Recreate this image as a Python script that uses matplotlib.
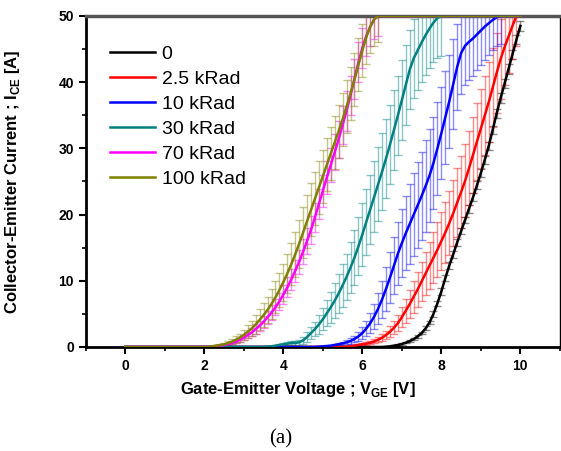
import numpy as np
import matplotlib
matplotlib.use("Agg")
import matplotlib.pyplot as plt
from matplotlib.ticker import MultipleLocator

plt.rcParams["font.family"] = ["Liberation Sans", "DejaVu Sans"]
plt.rcParams["mathtext.fontset"] = "custom"
plt.rcParams["mathtext.rm"] = "Liberation Sans:bold"
plt.rcParams["mathtext.bf"] = "Liberation Sans:bold"

# データ (0.1 V 刻み, 立ち上がり部分)
labels = ["0", "2.5 kRad", "10 kRad", "30 kRad", "70 kRad", "100 kRad"]
colors = ["#000000", "#ff0000", "#0000ff", "#008080", "#ff00ff", "#808000"]
v_start = [6.5, 5.5, 4.8, 3.5, 2.0, 2.0]

i_0 = [0.0, 0.05, 0.1, 0.2, 0.3, 0.45, 0.65, 0.9, 1.2, 1.6, 2.1, 2.8, 3.7, 5.0, 6.6, 8.4,
       10.4, 12.3, 14.0, 15.8, 17.5, 19.2, 20.9, 22.6, 24.4, 26.3, 28.3, 30.4, 32.8, 35.3,
       37.6, 39.8, 42.0, 44.2, 46.4, 48.5]
e_0 = [0.0, 0.0, 0.05, 0.05, 0.1, 0.1, 0.1, 0.15, 0.15, 0.2, 0.2, 0.3, 0.3, 0.4, 0.4, 0.5,
       0.5, 0.5, 0.5, 0.5, 0.5, 0.5, 0.6, 0.6, 0.6, 0.6, 0.6, 0.6, 0.6, 0.7, 0.7, 0.7, 0.7,
       0.7, 0.7, 0.7]

i_2k5 = [0.0, 0.05, 0.1, 0.2, 0.3, 0.4, 0.5, 0.65, 0.85, 1.1, 1.4, 1.8, 2.3, 2.9, 3.6, 4.5,
         5.5, 6.5, 7.6, 8.7, 9.9, 11.1, 12.3, 13.5, 14.7, 16.0, 17.3, 18.7, 20.2, 21.8,
         23.4, 25.1, 27.0, 29.0, 31.0, 33.0, 35.0, 37.0, 39.2, 41.4, 43.5, 45.3, 46.9,
         48.5, 50.0]
e_2k5 = [0.0, 0.0, 0.05, 0.1, 0.1, 0.15, 0.2, 0.2, 0.3, 0.4, 0.5, 0.6, 0.8, 1.0, 1.2, 1.5,
         1.8, 2.1, 2.4, 2.7, 3.0, 3.3, 3.6, 3.9, 4.2, 4.4, 4.6, 4.8, 5.0, 5.2, 5.4, 5.5,
         5.6, 5.7, 5.8, 5.9, 6.0, 6.0, 6.0, 6.0, 6.0, 5.8, 5.5, 5.0, 4.5]

i_10k = [0.0, 0.05, 0.1, 0.15, 0.2, 0.3, 0.4, 0.55, 0.7, 0.9, 1.2, 1.6, 2.1, 2.8, 3.6, 4.6,
         5.8, 7.2, 8.8, 10.5, 12.3, 14.1, 15.7, 17.2, 18.6, 20.0, 21.4, 22.8, 24.3, 25.9,
         27.8, 30.0, 32.3, 34.7, 37.1, 39.7, 42.3, 44.4, 45.5, 46.1, 46.6, 47.2, 47.8,
         48.4, 48.9, 49.4, 49.8, 50.0]
e_10k = [0.0, 0.0, 0.05, 0.05, 0.1, 0.1, 0.15, 0.2, 0.3, 0.4, 0.5, 0.7, 0.9, 1.2, 1.5, 1.9,
         2.3, 2.8, 3.3, 3.8, 4.3, 4.8, 5.2, 5.6, 6.0, 6.3, 6.5, 6.7, 6.9, 7.0, 7.0, 7.0,
         7.0, 7.0, 7.0, 6.8, 6.5, 6.2, 6.0, 5.8, 5.6, 5.4, 5.2, 5.0, 4.8, 4.6, 4.4, 4.2]

i_30k = [0.0, 0.05, 0.1, 0.2, 0.3, 0.4, 0.5, 0.6, 0.6, 0.7, 1.0, 1.5, 2.1, 2.7, 3.4, 4.2,
         5.1, 6.0, 7.0, 8.1, 9.3, 10.6, 12.0, 13.5, 15.2, 17.0, 18.9, 20.8, 22.7, 24.6,
         26.5, 28.5, 30.6, 32.8, 35.0, 37.3, 39.6, 41.9, 43.6, 44.8, 46.0, 47.1, 48.1,
         49.0, 49.7, 50.0]
e_30k = [0.0, 0.0, 0.05, 0.1, 0.1, 0.15, 0.2, 0.25, 0.3, 0.35, 0.5, 0.7, 0.9, 1.1, 1.4,
         1.7, 2.0, 2.3, 2.6, 2.9, 3.2, 3.5, 3.8, 4.1, 4.4, 4.7, 5.0, 5.2, 5.4, 5.6, 5.8,
         6.0, 6.0, 6.0, 6.0, 6.0, 6.0, 6.0, 6.0, 6.0, 6.0, 6.0, 6.0, 6.0, 6.0, 6.0]

i_70k = [0.0, 0.05, 0.1, 0.15, 0.2, 0.3, 0.45, 0.6, 0.8, 1.1, 1.4, 1.8, 2.2, 2.7, 3.2, 3.8,
         4.5, 5.2, 6.0, 6.9, 7.9, 9.0, 10.2, 11.5, 12.9, 14.4, 16.0, 17.7, 19.6, 21.6,
         23.6, 25.6, 27.5, 29.4, 31.4, 33.5, 35.7, 38.0, 40.5, 43.0, 45.2, 47.0, 48.4,
         49.5, 50.0]
e_70k = [0.0, 0.0, 0.05, 0.05, 0.1, 0.1, 0.15, 0.2, 0.25, 0.3, 0.4, 0.5, 0.6, 0.7, 0.8,
         0.9, 1.0, 1.1, 1.2, 1.3, 1.4, 1.5, 1.6, 1.7, 1.8, 1.9, 2.0, 2.1, 2.2, 2.3, 2.4,
         2.5, 2.6, 2.7, 2.8, 2.9, 3.0, 3.0, 3.0, 3.0, 3.0, 3.0, 3.0, 3.0, 3.0]

i_100k = [0.0, 0.05, 0.1, 0.2, 0.3, 0.4, 0.6, 0.8, 1.1, 1.4, 1.8, 2.3, 2.8, 3.4, 4.1, 4.8,
          5.6, 6.5, 7.5, 8.6, 9.8, 11.1, 12.5, 14.0, 15.6, 17.3, 19.0, 20.7, 22.4, 24.1,
          25.8, 27.5, 29.2, 30.9, 32.6, 34.4, 36.3, 38.3, 40.4, 42.6, 44.8, 46.8, 48.4,
          49.5, 50.0]
e_100k = [0.0, 0.0, 0.05, 0.1, 0.15, 0.2, 0.3, 0.4, 0.5, 0.6, 0.8, 1.0, 1.2, 1.4, 1.6,
          1.8, 2.0, 2.2, 2.4, 2.6, 2.8, 3.0, 3.2, 3.4, 3.6, 3.8, 4.0, 4.0, 4.0, 4.0, 4.0,
          4.0, 4.0, 4.0, 4.0, 4.0, 4.0, 4.0, 4.0, 4.0, 4.0, 4.0, 4.0, 4.0, 4.0]

currents = [i_0, i_2k5, i_10k, i_30k, i_70k, i_100k]
errors = [e_0, e_2k5, e_10k, e_30k, e_70k, e_100k]


def main():
    fig = plt.figure(figsize=(5.61, 4.51), dpi=100)
    ax = fig.add_axes([0.153, 0.2306, 0.845, 0.734])

    # エラーバー
    for cur, err, c, v0 in zip(currents, errors, colors, v_start):
        v = np.round(v0 + 0.1 * np.arange(len(cur)), 1)
        ax.errorbar(v, cur, yerr=err, fmt="none", ecolor=c, alpha=0.45,
                    elinewidth=1.0, capsize=3, capthick=1.0, zorder=2)

    # 曲線
    for cur, c, v0, lab in zip(currents, colors, v_start, labels):
        v = list(np.round(v0 + 0.1 * np.arange(len(cur)), 1))
        xs = [0.0] + v
        ys = [0.0] + list(cur)
        if v[-1] < 10:
            xs = xs + [10.0]
            ys = ys + [50.0]
        ax.plot(xs, ys, color=c, lw=1.8, label=lab, zorder=3)

    ax.set_xlim(-1, 11)
    ax.set_ylim(0, 50)
    ax.xaxis.set_major_locator(MultipleLocator(2))
    ax.xaxis.set_minor_locator(MultipleLocator(1))
    ax.yaxis.set_major_locator(MultipleLocator(10))
    ax.yaxis.set_minor_locator(MultipleLocator(5))
    ax.tick_params(which="major", direction="out", length=5, width=1.5,
                   labelsize=10, top=False, right=False)
    ax.tick_params(which="minor", direction="out", length=3, width=1.2,
                   top=False, right=False)
    for t in ax.get_xticklabels() + ax.get_yticklabels():
        t.set_fontweight("bold")

    ax.spines["left"].set_linewidth(2)
    ax.spines["bottom"].set_linewidth(2)
    ax.spines["top"].set_linewidth(2.5)
    ax.spines["top"].set_color("#555555")
    ax.spines["right"].set_linewidth(1)

    ax.set_xlabel(r"Gate-Emitter Voltage ; V$_{\mathbf{GE}}$ [V]",
                  fontsize=12, fontweight="bold", labelpad=6)
    ax.xaxis.set_label_coords(0.447, -0.1)
    ax.set_ylabel(r"Collector-Emitter Current ; I$_{\mathbf{CE}}$ [A]",
                  fontsize=12, fontweight="bold")
    ax.yaxis.set_label_coords(-0.135, 0.5)

    ax.legend(loc="upper left", bbox_to_anchor=(0.035, 0.935), frameon=False,
              fontsize=14, handlelength=2.3, handletextpad=0.35,
              labelspacing=0.38, borderaxespad=0)

    fig.text(0.5, 0.005, "(a)", ha="center", va="bottom",
             fontsize=15, family="Liberation Serif")

    fig.savefig("out.png", dpi=100)


if __name__ == "__main__":
    main()
